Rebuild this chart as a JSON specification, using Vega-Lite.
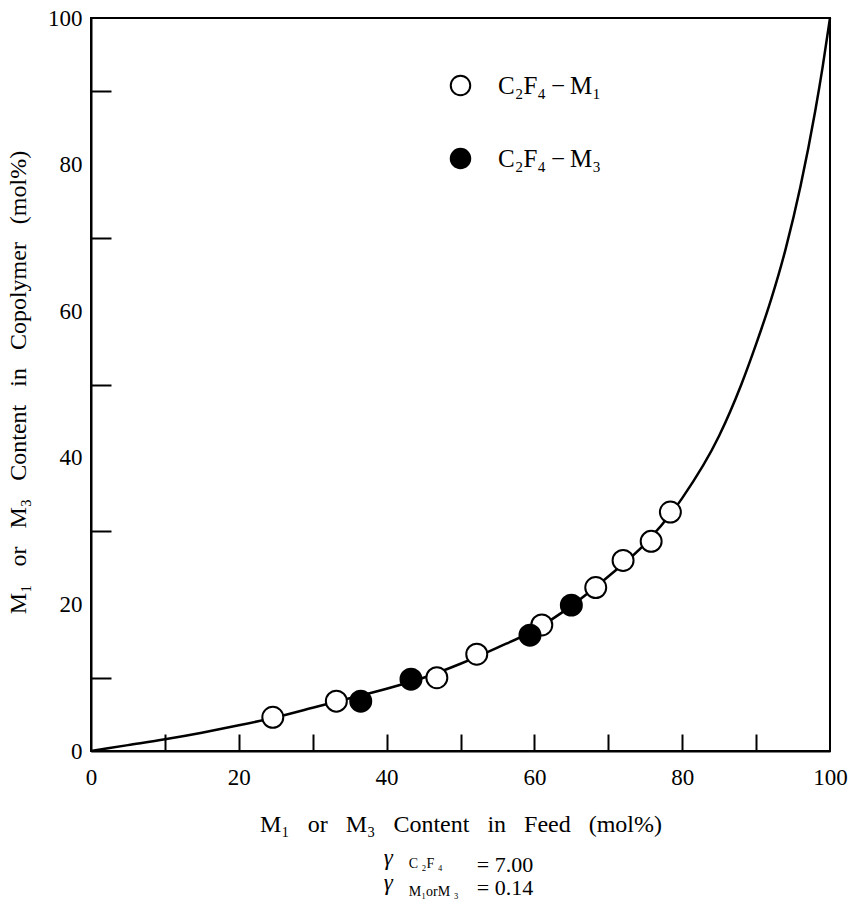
{
  "$schema": "https://vega.github.io/schema/vega-lite/v6.json",
  "width": 739,
  "height": 733,
  "autosize": {"type": "none"},
  "padding": {"left": 91, "top": 18, "right": 20, "bottom": 156},
  "background": "white",
  "config": {
    "view": {"stroke": "black", "strokeWidth": 2},
    "axis": {
      "grid": false,
      "domainColor": "black",
      "domainWidth": 2,
      "tickColor": "black",
      "tickWidth": 2,
      "labelColor": "black",
      "labelFont": "Liberation Serif",
      "labelFontSize": 23,
      "labelFlush": false,
      "labelOverlap": false,
      "titleColor": "black",
      "titleFont": "Liberation Serif",
      "titleFontSize": 24,
      "titleFontWeight": "normal"
    },
    "legend": {
      "labelFont": "Liberation Serif",
      "labelFontSize": 25,
      "labelColor": "black",
      "symbolStrokeColor": "black",
      "symbolStrokeWidth": 2,
      "symbolOpacity": 1
    }
  },
  "datasets": {
    "curve": [
      {"feed": 0, "copolymer": 0},
      {"feed": 5, "copolymer": 0.8},
      {"feed": 10, "copolymer": 1.6},
      {"feed": 15, "copolymer": 2.5},
      {"feed": 20, "copolymer": 3.5},
      {"feed": 25, "copolymer": 4.6},
      {"feed": 30, "copolymer": 5.9},
      {"feed": 35, "copolymer": 7.2},
      {"feed": 40, "copolymer": 8.5},
      {"feed": 45, "copolymer": 10.0},
      {"feed": 50, "copolymer": 11.9},
      {"feed": 55, "copolymer": 14.1},
      {"feed": 60, "copolymer": 16.5},
      {"feed": 65, "copolymer": 19.8},
      {"feed": 70, "copolymer": 23.8},
      {"feed": 75, "copolymer": 28.3},
      {"feed": 80, "copolymer": 34.5},
      {"feed": 85, "copolymer": 43},
      {"feed": 88, "copolymer": 50},
      {"feed": 90, "copolymer": 55.5},
      {"feed": 92, "copolymer": 61.5},
      {"feed": 94, "copolymer": 68.5},
      {"feed": 96, "copolymer": 77},
      {"feed": 98, "copolymer": 87.3},
      {"feed": 99, "copolymer": 93.3},
      {"feed": 100, "copolymer": 100}
    ],
    "points": [
      {"series": "C₂F₄\u2009−\u2009M₁", "feed": 24.6, "copolymer": 4.6},
      {"series": "C₂F₄\u2009−\u2009M₁", "feed": 33.2, "copolymer": 6.8},
      {"series": "C₂F₄\u2009−\u2009M₁", "feed": 46.8, "copolymer": 10.0},
      {"series": "C₂F₄\u2009−\u2009M₁", "feed": 52.2, "copolymer": 13.2},
      {"series": "C₂F₄\u2009−\u2009M₁", "feed": 61.0, "copolymer": 17.2},
      {"series": "C₂F₄\u2009−\u2009M₁", "feed": 68.3, "copolymer": 22.3},
      {"series": "C₂F₄\u2009−\u2009M₁", "feed": 72.0, "copolymer": 26.0},
      {"series": "C₂F₄\u2009−\u2009M₁", "feed": 75.8, "copolymer": 28.6},
      {"series": "C₂F₄\u2009−\u2009M₁", "feed": 78.4, "copolymer": 32.6},
      {"series": "C₂F₄\u2009−\u2009M₃", "feed": 36.5, "copolymer": 6.8},
      {"series": "C₂F₄\u2009−\u2009M₃", "feed": 43.3, "copolymer": 9.8},
      {"series": "C₂F₄\u2009−\u2009M₃", "feed": 59.4, "copolymer": 15.8},
      {"series": "C₂F₄\u2009−\u2009M₃", "feed": 65.0, "copolymer": 19.9}
    ]
  },
  "layer": [
    {
      "data": {"name": "curve"},
      "mark": {"type": "line", "color": "black", "strokeWidth": 2.5, "interpolate": "monotone"},
      "encoding": {
        "x": {
          "field": "feed", "type": "quantitative",
          "scale": {"domain": [0, 100], "nice": false, "zero": false},
          "axis": {
            "title": "M₁\u00a0\u00a0\u00a0or\u00a0\u00a0\u00a0M₃\u00a0\u00a0\u00a0Content\u00a0\u00a0\u00a0in\u00a0\u00a0\u00a0Feed\u00a0\u00a0\u00a0(mol%)",
            "values": [0, 10, 20, 30, 40, 50, 60, 70, 80, 90, 100],
            "labelExpr": "datum.value % 20 === 0 ? datum.label : ''",
            "tickSize": -17,
            "labelPadding": 32,
            "titlePadding": 23,
            "tickOpacity": {"condition": {"test": "datum.value === 0 || datum.value === 100", "value": 0}, "value": 1}
          }
        },
        "y": {
          "field": "copolymer", "type": "quantitative",
          "scale": {"domain": [0, 100], "nice": false, "zero": false},
          "axis": {
            "title": "M₁\u00a0\u00a0\u00a0or\u00a0\u00a0\u00a0M₃\u00a0\u00a0\u00a0Content\u00a0\u00a0\u00a0in\u00a0\u00a0\u00a0Copolymer\u00a0\u00a0\u00a0(mol%)",
            "values": [0, 10, 20, 30, 40, 50, 60, 70, 80, 90, 100],
            "labelExpr": "datum.value % 20 === 0 ? datum.label : ''",
            "tickSize": -20,
            "labelPadding": 29,
            "titlePadding": 17,
            "titleY": 364,
            "tickOpacity": {"condition": {"test": "datum.value % 20 === 0", "value": 0}, "value": 1}
          }
        }
      }
    },
    {
      "data": {"name": "points"},
      "mark": {"type": "point", "shape": "circle", "filled": true, "stroke": "black", "strokeWidth": 2, "size": 440, "opacity": 1},
      "encoding": {
        "x": {"field": "feed", "type": "quantitative"},
        "y": {"field": "copolymer", "type": "quantitative"},
        "fill": {
          "field": "series", "type": "nominal",
          "scale": {"domain": ["C₂F₄\u2009−\u2009M₁", "C₂F₄\u2009−\u2009M₃"], "range": ["white", "black"]},
          "legend": {
            "title": null,
            "orient": "none",
            "legendX": 357,
            "legendY": 55,
            "symbolType": "circle",
            "symbolSize": 380,
            "labelOffset": 25,
            "rowPadding": 44
          }
        }
      }
    },
    {
      "data": {"values": [{}]},
      "mark": {"type": "text", "align": "left", "baseline": "alphabetic", "font": "Liberation Serif", "fontStyle": "italic", "fontSize": 23, "color": "black"},
      "encoding": {"x": {"datum": 39.6}, "y": {"datum": -15.5}, "text": {"value": "γ"}}
    },
    {
      "data": {"values": [{}]},
      "mark": {"type": "text", "align": "left", "baseline": "alphabetic", "font": "Liberation Serif", "fontStyle": "italic", "fontSize": 23, "color": "black"},
      "encoding": {"x": {"datum": 39.6}, "y": {"datum": -19.0}, "text": {"value": "γ"}}
    },
    {
      "data": {"values": [{}]},
      "mark": {"type": "text", "align": "left", "baseline": "alphabetic", "font": "Liberation Serif", "fontSize": 14, "color": "black"},
      "encoding": {"x": {"datum": 43.0}, "y": {"datum": -16.0}, "text": {"value": "C ₂F ₄"}}
    },
    {
      "data": {"values": [{}]},
      "mark": {"type": "text", "align": "left", "baseline": "alphabetic", "font": "Liberation Serif", "fontSize": 14, "color": "black"},
      "encoding": {"x": {"datum": 43.0}, "y": {"datum": -19.8}, "text": {"value": "M₁orM ₃"}}
    },
    {
      "data": {"values": [{}]},
      "mark": {"type": "text", "align": "left", "baseline": "alphabetic", "font": "Liberation Serif", "fontSize": 22, "color": "black"},
      "encoding": {"x": {"datum": 52.2}, "y": {"datum": -16.5}, "text": {"value": "= 7.00"}}
    },
    {
      "data": {"values": [{}]},
      "mark": {"type": "text", "align": "left", "baseline": "alphabetic", "font": "Liberation Serif", "fontSize": 22, "color": "black"},
      "encoding": {"x": {"datum": 52.2}, "y": {"datum": -19.6}, "text": {"value": "= 0.14"}}
    }
  ]
}
